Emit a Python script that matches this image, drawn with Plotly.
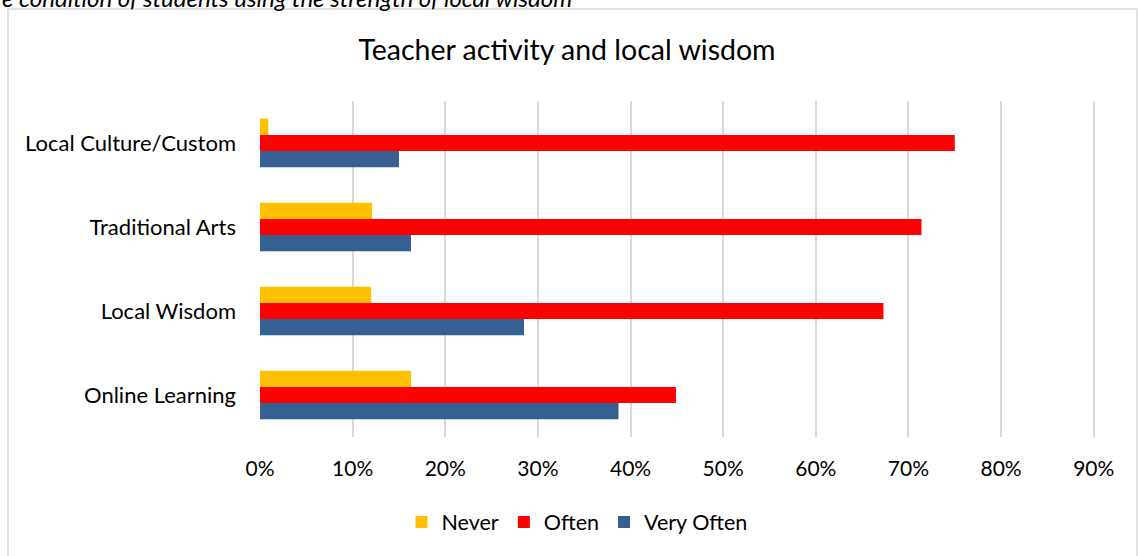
import plotly.graph_objects as go

categories = ["Online Learning", "Local Wisdom", "Traditional Arts", "Local Culture/Custom"]
never = [16.3, 12.0, 12.1, 0.9]
often = [44.9, 67.3, 71.4, 75.0]
very_often = [38.7, 28.5, 16.3, 15.0]
x_ticks = [0, 10, 20, 30, 40, 50, 60, 70, 80, 90]

FONT = "Lato"
W, H = 1138, 556
L, R, T, B = 260, 35, 101, 119
pw, ph = W - L - R, H - T - B

def px_x(p):
    return (p - L) / pw

def px_y(p):
    return (H - B - p) / ph

fig = go.Figure()
fig.add_trace(go.Bar(y=categories, x=very_often, name="Very Often", orientation="h",
                     marker=dict(color="#376092", line=dict(width=0))))
fig.add_trace(go.Bar(y=categories, x=often, name="Often", orientation="h",
                     marker=dict(color="#FF0000", line=dict(width=0))))
fig.add_trace(go.Bar(y=categories, x=never, name="Never", orientation="h",
                     marker=dict(color="#FFC000", line=dict(width=0))))

fig.update_layout(
    width=W, height=H,
    margin=dict(l=L, r=R, t=T, b=B, autoexpand=False),
    paper_bgcolor="white", plot_bgcolor="white",
    barmode="group", bargap=0.42, bargroupgap=0,
    font=dict(family=FONT, color="#000000"),
    title=dict(text="Teacher activity and local wisdom", x=px_x(567), xref="paper",
               xanchor="center", y=1 - 50 / H, yanchor="middle",
               font=dict(family=FONT, size=28.5, color="#000000")),
    legend=dict(orientation="h", traceorder="reversed", x=px_x(577), xanchor="center",
                y=px_y(522), yanchor="middle", font=dict(family=FONT, size=21.5, color="#000000"),
                bgcolor="rgba(0,0,0,0)"),
    showlegend=True,
)
fig.update_xaxes(range=[0, 91], tickvals=x_ticks, ticktext=[f"{v}%" for v in x_ticks],
                 showgrid=True, gridcolor="#d9d9d9", gridwidth=1.5,
                 zeroline=False, showline=False, ticks="",
                 tickfont=dict(family=FONT, size=21, color="#000000"),
                 ticklabelstandoff=17, fixedrange=True)
fig.update_yaxes(categoryorder="array", categoryarray=categories,
                 showgrid=False, zeroline=False, showline=False, ticks="",
                 tickfont=dict(family=FONT, size=22, color="#000000"),
                 ticklabelstandoff=23, fixedrange=True)

# chart frame
fig.add_shape(type="rect", xref="paper", yref="paper",
              x0=px_x(8), x1=px_x(1137), y0=px_y(580), y1=px_y(9),
              line=dict(color="#d9d9d9", width=1.5), fillcolor="rgba(0,0,0,0)", layer="below")

# cut-off caption from the surrounding document
fig.add_annotation(text="<i>e condition of students using the strength of local wisdom</i>",
                   xref="paper", yref="paper", x=px_x(0), xanchor="left",
                   y=px_y(-3), yanchor="middle", showarrow=False,
                   font=dict(family=FONT, size=24, color="#000000"))

fig.write_html("out.html", config={"displayModeBar": False},
               post_script="document.body.style.margin='0';document.body.style.overflow='hidden';")
